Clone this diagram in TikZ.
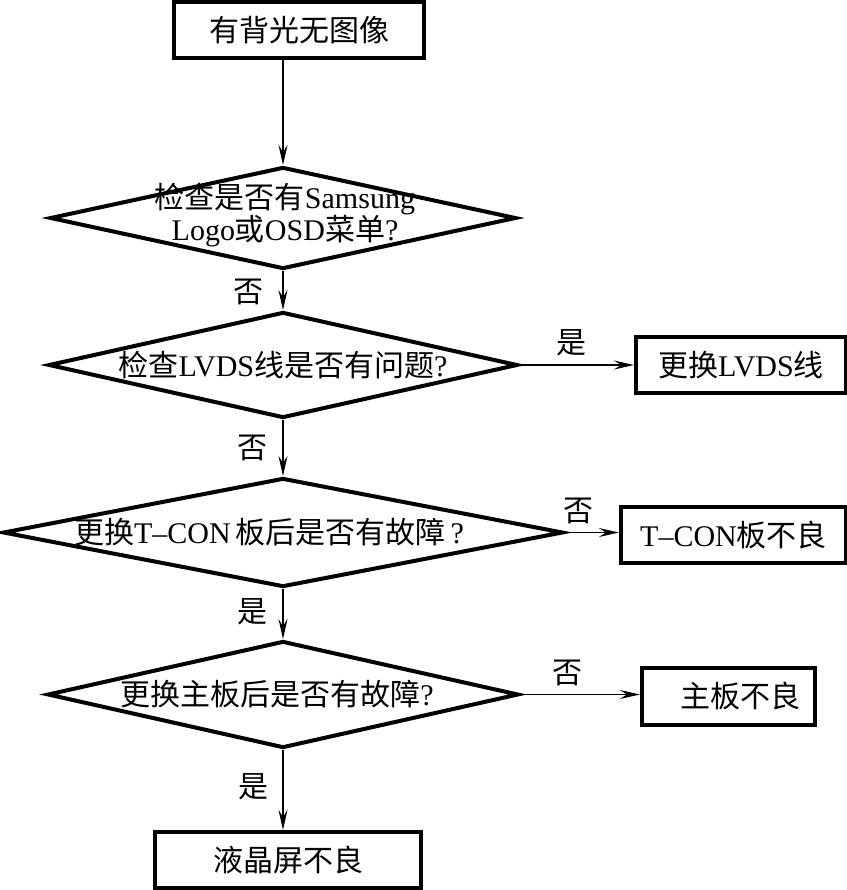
\documentclass[tikz,border=0pt]{standalone}
\usepackage{fontspec}
\setmainfont{Liberation Serif}
\newfontfamily\cjk{Noto Sans CJK SC}
\usetikzlibrary{shapes.geometric,arrows.meta}
\tikzset{
  txt/.style={font=\fontsize{15}{16}\selectfont, inner sep=0pt, align=center},
  boxnode/.style={draw, line width=2.1pt, rectangle, inner sep=0pt, txt},
  dia/.style={draw, line width=2pt, diamond, inner sep=0pt, aspect=1},
  arr/.style={line width=0.7pt, -{Stealth[length=10pt, width=4.5pt, inset=3.5pt]}},
  lbl/.style={txt}
}
\begin{document}
\begin{tikzpicture}[x=0.5pt, y=-0.5pt]
\useasboundingbox (0,0) rectangle (847,890);
% boxes
\node[boxnode, minimum width=125pt, minimum height=28pt] (n1) at (299,30) {\cjk 有背光无图像};
\node[dia, minimum width=233pt, minimum height=51pt,
      label={[txt, yshift=1.5pt, xshift=1pt]center:{\cjk 检查是否有}Samsung\\Logo{\cjk 或}OSD{\cjk 菜单}?}] (d1) at (283,218) {};
\node[dia, minimum width=234.5pt, minimum height=53pt,
      label={[txt]center:{\cjk 检查}LVDS{\cjk 线是否有问题}?}] (d2) at (283,365) {};
\node[boxnode, minimum width=105pt, minimum height=28pt] (b2) at (741,365) {{\cjk 更换}LVDS{\cjk 线}};
\node[dia, minimum width=280pt, minimum height=54.5pt,
      label={[txt, xshift=-7pt]center:{\cjk 更换}T–CON\,{\cjk 板后是否有故障}\,?}] (d3) at (283,532.5) {};
\node[boxnode, minimum width=112.5pt, minimum height=28pt] (b3) at (733.5,535) {T–CON{\cjk 板不良}};
\node[dia, minimum width=235.5pt, minimum height=53.5pt,
      label={[txt, xshift=-3pt]center:{\cjk 更换主板后是否有故障}?}] (d4) at (283,694.5) {};
\node[boxnode, minimum width=86.5pt, minimum height=28.5pt,
      label={[txt, xshift=6pt]center:{\cjk 主板不良}}] (b4) at (728.5,696.5) {};
\node[boxnode, minimum width=133pt, minimum height=28pt] (b5) at (288,860) {\cjk 液晶屏不良};
% connectors
\draw[arr] (d1.north |- n1.south) -- (d1.north);
\draw[arr] (d1.south) -- (d2.north) node[lbl] at (248,292) {\cjk 否};
\draw[arr] (d2.east) -- (b2.west) node[lbl] at (571,343) {\cjk 是};
\draw[arr] (d2.south) -- (d3.north) node[lbl] at (252,448) {\cjk 否};
\draw[arr] (d3.east) -- (b3.west |- d3.east) node[lbl] at (578,511) {\cjk 否};
\draw[arr] (d3.south) -- (d4.north) node[lbl] at (252,612) {\cjk 是};
\draw[arr] (d4.east) -- (b4.west |- d4.east) node[lbl] at (567,673) {\cjk 否};
\draw[arr] (d4.south) -- (d4.south |- b5.north) node[lbl] at (253,787) {\cjk 是};
\end{tikzpicture}
\end{document}
